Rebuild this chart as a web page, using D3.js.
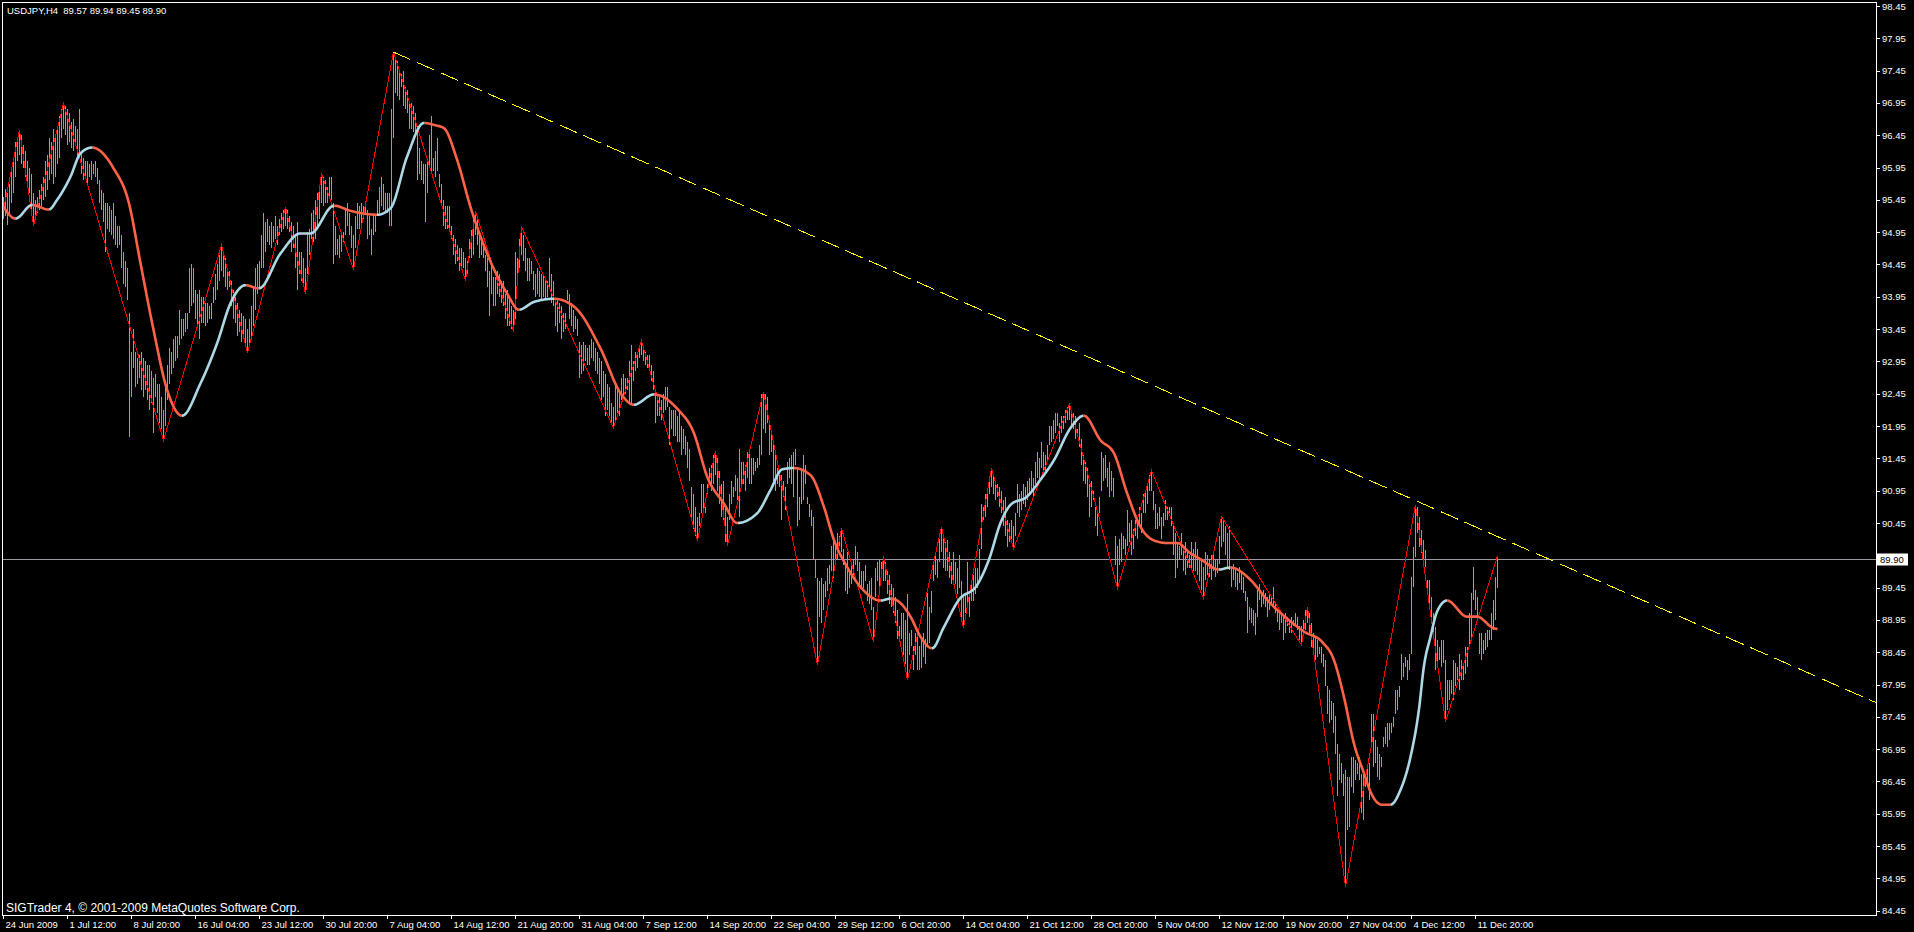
<!DOCTYPE html>
<html><head><meta charset="utf-8">
<script src="https://cdn.jsdelivr.net/npm/d3@7"></script>
<style>html,body{margin:0;padding:0;background:#000;overflow:hidden}svg{display:block}</style>
</head><body>
<svg id="chart" width="1914" height="932"></svg>
<script>
const symbolTitle = "USDJPY,H4  89.57 89.94 89.45 89.90";
const copyright = "SIGTrader 4, \u00A9 2001-2009 MetaQuotes Software Corp.";
const dateLabels = ["24 Jun 2009","1 Jul 12:00","8 Jul 20:00","16 Jul 04:00","23 Jul 12:00","30 Jul 20:00","7 Aug 04:00","14 Aug 12:00","21 Aug 20:00","31 Aug 04:00","7 Sep 12:00","14 Sep 20:00","22 Sep 04:00","29 Sep 12:00","6 Oct 20:00","14 Oct 04:00","21 Oct 12:00","28 Oct 20:00","5 Nov 04:00","12 Nov 12:00","19 Nov 20:00","27 Nov 04:00","4 Dec 12:00","11 Dec 20:00"];
const barsPerDateLabel = 32;
// price scale labels (89.95 is covered by the current-price label)
const priceTicks = [84.45,84.95,85.45,85.95,86.45,86.95,87.45,87.95,88.45,88.95,89.45,90.45,90.95,91.45,91.95,92.45,92.95,93.45,93.95,94.45,94.95,95.45,95.95,96.45,96.95,97.45,97.95,98.45];
const currentPrice = 89.90;

// H4 bars: [low, high]
const bars = [
// 0
[95.15,95.50],[95.20,95.62],[95.06,95.55],[95.25,95.70],[95.40,95.90],[95.55,96.10],[95.80,96.35],[96.05,96.42],[96.15,96.53],[96.00,96.45],
// 10
[95.95,96.30],[95.80,96.20],[95.70,96.05],[95.55,95.95],[95.30,95.85],[95.05,95.55],[95.20,95.45],[95.25,95.50],[95.30,95.60],[95.35,95.70],
// 20
[95.45,95.80],[95.50,96.05],[95.60,96.15],[95.75,96.40],[95.85,96.35],[95.70,96.55],[95.80,96.45],[96.00,96.60],[96.10,96.75],[96.40,96.85],
// 30
[96.55,96.94],[96.45,96.90],[96.30,96.85],[96.35,96.80],[96.25,96.65],[96.20,96.70],[96.30,96.60],[96.10,96.55],[96.10,96.85],[95.85,96.20],
// 40
[95.75,96.10],[95.80,96.05],[95.70,96.05],[95.80,96.00],[95.75,96.05],[95.85,96.00],[95.80,96.05],[95.70,95.95],[95.40,95.75],[95.30,95.60],
// 50
[95.10,95.55],[94.65,95.40],[95.00,95.40],[94.95,95.35],[94.90,95.30],[94.85,95.40],[94.75,95.20],[94.70,95.05],[94.75,95.05],[94.40,94.90],
// 60
[94.15,94.65],[94.10,94.50],[93.90,94.40],[91.78,93.70],[92.40,93.10],[92.85,93.45],[92.55,93.10],[92.60,93.00],[92.70,93.05],[92.50,93.10],
// 70
[92.40,93.00],[92.50,92.95],[92.35,92.90],[92.20,92.90],[92.30,92.80],[91.85,92.70],[92.40,92.75],[92.15,92.60],[92.00,92.60],[91.90,92.40],
// 80
[91.73,92.20],[91.95,92.55],[92.35,92.90],[92.60,93.15],[92.75,93.10],[92.85,93.30],[92.95,93.35],[93.00,93.35],[93.20,93.75],[93.30,93.60],
// 90
[93.35,93.60],[93.40,93.70],[93.45,93.70],[93.70,94.40],[93.80,94.45],[93.85,94.40],[93.60,94.05],[93.50,94.00],[93.30,94.05],[93.55,93.95],
// 100
[93.55,93.95],[93.50,93.85],[93.55,93.85],[93.60,93.80],[93.60,93.85],[93.85,94.10],[93.90,94.30],[94.05,94.45],[94.20,94.60],[94.35,94.75],
// 110
[94.25,94.65],[94.10,94.55],[94.05,94.40],[94.10,94.35],[93.80,94.20],[93.60,94.05],[93.55,93.95],[93.35,93.85],[93.40,93.75],[93.25,93.70],
// 120
[93.35,93.65],[93.20,93.60],[93.08,93.45],[93.20,93.60],[93.35,93.80],[93.50,94.10],[93.75,94.40],[94.00,94.45],[94.10,94.50],[94.40,94.90],
// 130
[94.40,95.25],[94.65,95.10],[94.80,95.15],[94.75,95.05],[94.70,95.10],[94.80,95.05],[94.85,95.20],[94.75,95.05],[94.90,95.15],[94.95,95.25],
// 140
[95.00,95.30],[95.05,95.34],[95.00,95.30],[94.95,95.20],[94.65,95.10],[94.70,95.05],[94.40,94.90],[94.05,95.10],[94.30,94.65],[94.20,94.65],
// 150
[94.10,94.55],[94.00,94.40],[94.30,94.95],[94.60,95.00],[94.85,95.25],[94.80,95.30],[94.85,95.45],[95.05,95.55],[95.15,95.65],[95.40,95.86],
// 160
[95.35,95.80],[95.40,95.75],[95.40,95.65],[95.50,95.80],[95.45,95.80],[94.45,95.40],[94.60,95.05],[94.60,94.85],[94.55,94.90],[94.65,94.95],
// 170
[94.80,94.95],[94.90,95.30],[95.05,95.40],[94.90,95.25],[94.70,95.05],[94.37,94.90],[94.70,95.20],[95.00,95.40],[95.00,95.35],[95.05,95.40],
// 180
[95.15,95.35],[95.25,95.40],[94.85,95.30],[94.90,95.20],[94.60,95.00],[94.90,95.20],[94.95,95.20],[95.20,95.45],[95.25,95.65],[95.35,95.80],
// 190
[95.30,95.70],[95.25,95.55],[95.25,95.55],[95.05,95.55],[95.05,96.85],[96.40,97.74],[97.10,97.65],[97.05,97.60],[97.00,97.45],[97.20,97.40],
// 200
[96.90,97.45],[96.85,97.20],[96.80,97.15],[96.55,96.95],[96.55,96.95],[96.50,96.90],[96.45,96.80],[95.75,96.60],[95.85,96.25],[95.75,96.05],
// 210
[95.70,96.00],[95.10,96.00],[95.55,96.05],[95.95,96.45],[95.85,96.75],[95.90,96.10],[95.80,96.20],[95.90,96.40],[95.65,95.85],[95.40,95.70],
// 220
[95.05,95.45],[95.00,95.35],[95.00,95.35],[94.95,95.35],[94.85,95.05],[94.60,94.90],[94.45,94.85],[94.50,94.75],[94.35,94.70],[94.40,94.70],
// 230
[94.40,94.65],[94.20,94.55],[94.30,94.50],[94.55,94.85],[94.55,94.98],[94.60,95.20],[94.90,95.27],[94.75,95.15],[94.55,94.90],[94.60,94.80],
// 240
[94.55,94.75],[94.35,94.60],[94.10,94.55],[93.65,94.35],[94.00,94.50],[93.80,94.25],[93.80,94.25],[94.00,94.35],[93.95,94.30],[93.85,94.20],
// 250
[93.80,94.20],[93.60,94.00],[93.50,94.05],[93.50,93.90],[93.45,93.80],[93.41,93.75],[93.60,94.65],[94.30,94.55],[94.40,94.85],[94.60,95.03],
// 260
[94.50,94.90],[94.35,94.70],[94.20,94.55],[94.20,94.55],[94.30,94.50],[94.05,94.35],[93.95,94.30],[94.00,94.40],[93.95,94.35],[93.90,94.30],
// 270
[93.95,94.30],[93.90,94.20],[93.95,94.20],[94.10,94.55],[93.85,94.30],[93.80,94.20],[93.50,93.90],[93.40,93.90],[93.55,93.85],[93.30,93.80],
// 280
[93.40,93.70],[93.45,93.70],[93.90,94.05],[93.60,94.00],[93.50,93.85],[93.40,93.75],[93.45,93.65],[93.35,93.60],[92.70,93.25],[92.75,93.20],
// 290
[92.80,93.25],[92.95,93.20],[92.90,93.15],[92.90,93.20],[93.00,93.30],[92.95,93.25],[92.80,93.15],[92.75,93.10],[92.60,93.00],[92.35,92.95],
// 300
[92.40,92.80],[92.10,92.75],[92.20,92.60],[92.10,92.55],[92.00,92.30],[91.92,92.25],[92.05,92.60],[92.15,92.50],[92.10,92.50],[92.35,92.70],
// 310
[92.40,92.75],[92.45,92.70],[92.50,92.70],[92.30,92.95],[92.30,93.20],[92.65,92.95],[92.80,93.10],[92.85,93.10],[93.00,93.17],[93.05,93.27],
// 320
[92.95,93.12],[92.90,93.10],[92.85,93.05],[92.80,93.05],[92.65,92.90],[92.50,92.80],[92.00,92.50],[92.10,92.40],[92.10,92.40],[92.05,92.35],
// 330
[92.15,92.45],[92.20,92.55],[92.25,92.55],[91.65,92.25],[91.90,92.20],[91.80,92.20],[91.80,92.20],[91.70,92.10],[91.70,92.20],[91.50,91.95],
// 340
[91.60,91.90],[91.50,91.80],[91.30,91.70],[91.10,91.60],[90.55,91.00],[90.35,90.90],[90.25,90.70],[90.18,90.55],[90.40,90.60],[90.60,91.05],
// 350
[90.60,91.05],[90.60,90.70],[90.90,91.05],[91.05,91.30],[90.95,91.35],[91.05,91.50],[91.20,91.57],[90.95,91.45],[90.75,91.25],[90.55,91.05],
// 360
[90.50,91.10],[90.15,90.70],[90.10,90.55],[90.50,90.90],[90.75,91.10],[90.85,91.00],[90.95,91.20],[90.80,91.15],[90.55,91.60],[91.05,91.40],
// 370
[91.05,91.40],[90.95,91.35],[91.15,91.55],[91.05,91.55],[91.05,91.45],[91.20,91.45],[91.25,91.40],[91.30,91.45],[91.35,91.65],[91.50,92.45],
// 380
[91.90,92.48],[91.85,92.45],[92.00,92.40],[91.50,92.00],[91.55,91.85],[91.10,91.70],[90.95,91.50],[91.05,91.30],[91.00,91.25],[90.50,91.20],
// 390
[90.85,91.10],[90.65,91.00],[91.05,91.40],[91.15,91.45],[91.05,91.50],[90.85,91.55],[91.35,91.60],[90.40,91.30],[90.50,90.85],[90.75,91.25],
// 400
[90.80,91.50],[91.05,91.35],[90.75,90.85],[90.55,90.75],[90.40,90.65],[89.90,90.55],[89.60,89.90],[88.25,89.60],[89.00,89.55],[88.90,89.60],
// 410
[89.10,89.50],[89.30,89.55],[89.40,89.75],[89.50,89.80],[89.70,90.10],[89.60,90.20],[89.85,90.15],[89.90,90.30],[90.10,90.25],[90.00,90.37],
// 420
[89.80,90.05],[89.40,89.85],[89.35,90.00],[89.45,89.70],[89.50,89.80],[89.65,89.90],[89.80,90.10],[89.70,90.00],[89.50,89.85],[89.45,89.70],
// 430
[89.45,89.70],[89.55,89.80],[89.25,89.50],[89.20,89.55],[89.10,89.60],[88.61,89.15],[89.30,89.75],[89.55,89.85],[89.35,89.90],[89.60,89.85],
// 440
[89.55,89.93],[89.55,89.85],[89.35,89.70],[89.20,89.65],[89.15,89.50],[89.05,89.45],[88.90,89.30],[88.65,89.10],[88.65,88.85],[88.65,89.05],
// 450
[88.40,89.05],[88.27,88.95],[88.02,89.35],[88.40,88.75],[88.55,88.80],[88.17,88.55],[88.40,88.75],[88.17,88.80],[88.17,88.55],[88.20,88.65],
// 460
[88.37,88.75],[88.27,88.65],[88.53,89.36],[88.60,89.15],[89.05,89.40],[89.55,89.85],[89.65,89.95],[89.60,89.90],[89.85,90.20],[90.00,90.39],
// 470
[89.75,90.20],[89.70,90.15],[89.70,90.18],[89.60,90.00],[89.50,89.85],[89.55,90.00],[89.50,89.85],[89.35,89.75],[89.45,89.95],[88.95,89.55],
// 480
[88.82,89.30],[89.05,89.35],[89.15,89.85],[89.00,89.35],[89.25,89.55],[89.25,89.65],[89.35,89.75],[89.45,89.75],[89.55,90.05],[90.05,90.75],
// 490
[90.50,90.70],[90.55,90.90],[90.70,90.95],[90.90,91.10],[91.00,91.30],[90.90,91.20],[90.80,91.10],[90.85,91.05],[90.70,91.00],[90.60,90.95],
// 500
[90.40,90.80],[90.25,90.85],[90.08,90.50],[90.15,90.45],[90.20,90.50],[90.05,90.40],[90.25,90.60],[90.60,91.05],[90.55,90.90],[90.65,90.95],
// 510
[90.75,91.05],[90.70,91.00],[90.80,91.10],[90.90,91.15],[90.95,91.25],[90.85,91.15],[91.05,91.40],[91.15,91.55],[91.10,91.45],[91.30,91.70],
// 520
[91.25,91.55],[91.25,91.50],[91.40,91.65],[91.65,91.95],[91.70,91.95],[91.75,92.05],[91.85,92.15],[91.95,92.15],[91.70,92.00],[91.85,92.10],
// 530
[91.90,92.10],[92.00,92.20],[92.05,92.25],[92.05,92.29],[91.95,92.20],[91.90,92.15],[91.75,92.10],[91.80,91.90],[91.62,92.00],[91.35,91.75],
// 540
[91.10,91.50],[91.05,91.40],[90.85,91.30],[90.55,91.05],[90.70,91.10],[90.80,90.95],[90.40,90.70],[90.25,90.60],[90.60,90.85],[90.95,91.55],
// 550
[91.10,91.45],[91.15,91.50],[91.00,91.30],[90.85,91.40],[90.95,91.25],[90.85,91.15],[89.80,90.25],[89.44,90.10],[89.80,90.20],[89.85,90.30],
// 560
[90.05,90.25],[89.95,90.20],[90.10,90.65],[90.15,90.45],[89.95,90.50],[90.05,90.35],[90.25,90.50],[90.20,90.45],[90.40,90.70],[90.30,90.60],
// 570
[90.60,90.90],[90.60,90.95],[90.75,91.05],[90.95,91.20],[90.95,91.26],[90.65,90.95],[90.35,90.75],[90.35,90.60],[90.40,90.70],[90.20,90.55],
// 580
[90.40,90.60],[90.50,90.80],[90.50,90.70],[90.60,90.70],[90.40,90.70],[89.95,90.45],[89.60,90.30],[89.75,90.15],[89.90,90.10],[89.95,90.30],
// 590
[89.70,90.10],[89.65,90.15],[89.75,90.00],[89.75,89.95],[89.75,90.15],[89.70,90.05],[89.70,90.15],[89.65,90.05],[89.55,89.90],[89.41,89.88],
// 600
[89.28,89.77],[89.57,90.00],[89.65,89.95],[89.62,89.90],[89.57,89.95],[89.70,89.95],[89.62,89.88],[89.68,89.88],[89.82,90.25],[90.08,90.55],
// 610
[90.15,90.50],[89.95,90.40],[89.77,90.30],[89.72,90.40],[89.46,89.77],[89.57,89.82],[89.46,89.72],[89.41,89.67],[89.52,89.77],[89.41,89.67],
// 620
[89.36,89.62],[89.25,89.40],[88.74,89.31],[88.95,89.15],[88.90,89.13],[88.85,89.10],[88.72,89.05],[89.00,89.41],[89.26,89.51],[89.15,89.36],
// 630
[89.20,89.41],[89.15,89.36],[89.00,89.31],[89.10,89.36],[89.20,89.31],[89.15,89.46],[89.05,89.20],[88.92,89.10],[88.79,89.10],[88.90,89.05],
// 640
[88.64,89.00],[88.74,89.05],[88.85,89.00],[88.74,88.95],[88.74,89.00],[88.85,88.95],[88.85,89.05],[88.79,89.00],[88.64,88.85],[88.56,88.85],
// 650
[88.79,88.95],[88.79,89.10],[88.90,89.15],[88.74,89.05],[88.53,88.90],[88.43,88.74],[88.33,88.69],[88.38,88.64],[88.43,88.53],[88.28,88.53],
// 660
[88.22,88.43],[87.92,88.33],[87.50,87.92],[87.35,87.86],[87.40,87.70],[87.20,87.66],[86.88,87.46],[86.22,87.03],[86.47,86.88],[86.42,86.73],
// 670
[86.22,86.57],[84.82,86.62],[85.70,86.52],[85.75,86.52],[86.37,86.83],[86.27,86.83],[86.47,86.78],[86.57,86.73],[86.47,86.83],[85.96,86.57],
// 680
[85.85,86.57],[86.37,86.52],[86.42,86.68],[86.16,86.73],[86.99,87.50],[86.68,87.50],[86.73,87.09],[86.52,86.99],[86.47,86.88],[86.68,86.83],
// 690
[86.99,87.14],[87.03,87.30],[86.99,87.35],[87.09,87.35],[87.20,87.35],[87.30,87.45],[87.50,87.86],[87.55,87.86],[87.76,87.92],[88.02,88.43],
// 700
[88.07,88.28],[88.22,88.38],[88.02,88.33],[88.17,88.43],[88.43,89.62],[89.46,90.08],[89.93,90.73],[90.29,90.70],[90.08,90.55],[89.98,90.34],
// 710
[89.77,90.18],[89.77,90.03],[89.36,89.57],[89.15,89.57],[88.90,89.31],[88.69,89.05],[88.17,88.84],[88.22,88.64],[88.33,88.53],[88.22,88.64],
// 720
[88.28,88.64],[87.37,88.33],[87.55,88.02],[87.71,88.02],[87.81,88.02],[87.71,88.33],[87.92,88.28],[88.02,88.22],[87.86,88.43],[88.02,88.33],
// 730
[88.02,88.28],[88.12,88.53],[88.22,88.53],[88.53,89.05],[88.64,89.36],[89.26,89.77],[89.10,89.41],[88.95,89.31],[88.43,88.74],[88.33,88.74],
// 740
[88.43,88.64],[88.48,88.74],[88.53,88.79],[88.64,88.79],[88.64,89.05],[88.79,89.26],[88.95,89.62],[89.45,89.94]
];

// ZigZag pivots: [bar index, price]
const zigzag = [[0,95.30],[8,96.53],[15,95.05],[30,96.94],[80,91.73],[109,94.75],[122,93.08],[141,95.34],[151,94.00],[159,95.86],[175,94.37],[195,97.74],[231,94.20],[236,95.27],[255,93.41],[259,95.03],[305,91.92],[319,93.27],[347,90.18],[356,91.57],[362,90.10],[380,92.48],[407,88.25],[419,90.37],[435,88.61],[440,89.93],[452,88.02],[469,90.39],[480,88.82],[494,91.30],[505,90.05],[533,92.29],[557,89.44],[574,91.26],[600,89.28],[609,90.55],[649,88.56],[652,89.15],[671,84.82],[706,90.73],[721,87.37],[747,89.94]];

// Smoothed moving average: [bar index, price]
const maLine = [[0,95.34],[6,95.16],[14.3,95.37],[22.7,95.30],[26.8,95.45],[33.5,95.81],[38.5,96.17],[44.3,96.26],[55,95.94],[62.7,95.40],[68.5,94.47],[75,93.44],[81.8,92.51],[89.3,92.11],[98.5,92.61],[106.8,93.23],[113.5,93.85],[121,94.13],[127.7,94.08],[138.5,94.62],[148.5,94.93],[153.5,94.93],[165.2,95.36],[173.5,95.28],[186.8,95.22],[193.5,95.32],[201.8,96.12],[210.2,96.64],[215.2,96.61],[220.2,96.56],[226.8,96.07],[233.5,95.34],[241.8,94.62],[251.8,94.00],[257.7,93.75],[265.2,93.87],[275.2,93.92],[285.2,93.80],[298.5,93.15],[308.5,92.46],[315.2,92.28],[325.2,92.44],[336.8,92.22],[345.2,91.84],[351.8,91.17],[360.2,90.75],[366.8,90.45],[376.8,90.60],[383.5,90.96],[389.3,91.28],[395.2,91.30],[403.5,91.19],[410.2,90.70],[415.2,90.19],[421.8,89.77],[428.5,89.46],[438.5,89.25],[443.5,89.28],[448.5,89.21],[453.5,89.00],[458.5,88.69],[464.3,88.51],[470.2,88.84],[477.7,89.26],[486.8,89.49],[492.7,89.88],[498.5,90.45],[503.5,90.73],[511.8,90.86],[518.5,91.12],[525.2,91.42],[533.5,91.92],[540.2,92.11],[548.5,91.73],[555.2,91.53],[561.8,90.91],[568.5,90.39],[575.2,90.18],[581.8,90.14],[586.8,90.14],[593.5,89.98],[598.5,89.89],[607.7,89.73],[613.5,89.76],[623.5,89.57],[631.8,89.26],[641.8,88.97],[650.2,88.77],[659.3,88.61],[665.2,88.33],[670.2,87.76],[675.2,87.04],[680.2,86.58],[683.5,86.29],[689.3,86.09],[693.5,86.09],[698.5,86.32],[703.5,86.83],[707.7,87.56],[710.2,88.23],[713.5,88.69],[716.8,89.08],[721.8,89.25],[731.8,89.00],[736.8,89.00],[745.2,88.82],[747,88.81]];

// Trend line: [bar index, price]
const trendLine = [[195,97.74],[936.5,87.67]];

const FONT = "'Liberation Sans', Arial, sans-serif";
const svg = d3.select("#chart");
svg.append("rect").attr("width",1914).attr("height",932).attr("fill","#000");

const x = d3.scaleLinear().domain([0, 936.5]).range([3, 1876]);
const y = d3.scaleLinear().domain([84.45, 98.45]).range([910.7, 6]);

svg.append("defs").append("clipPath").attr("id","plotclip")
  .append("rect").attr("x",3).attr("y",3).attr("width",1873).attr("height",912);
const plot = svg.append("g").attr("clip-path","url(#plotclip)");

// bars
plot.append("g").selectAll("rect").data(bars).join("rect")
  .attr("x",(d,i)=>Math.round(x(i)))
  .attr("y",d=>Math.round(y(d[1])))
  .attr("width",1)
  .attr("height",d=>Math.max(1, Math.round(y(d[0]))-Math.round(y(d[1]))))
  .attr("fill","#33e633")
  .attr("shape-rendering","crispEdges");

// current price line
plot.append("line")
  .attr("x1",3).attr("x2",1876)
  .attr("y1",Math.round(y(currentPrice))+0.5).attr("y2",Math.round(y(currentPrice))+0.5)
  .attr("stroke","#9a9aa2").attr("stroke-width",1).attr("shape-rendering","crispEdges");

// zigzag
plot.append("path").datum(zigzag)
  .attr("d", d3.line().x(d=>Math.round(x(d[0]))+0.5).y(d=>y(d[1])))
  .attr("fill","none").attr("stroke","#ff0000").attr("stroke-width",1)
  .attr("shape-rendering","crispEdges");

// moving average, coloured by direction
const maBase = plot.append("path").datum(maLine)
  .attr("d", d3.line().x(d=>x(d[0])+0.5).y(d=>y(d[1])).curve(d3.curveMonotoneX))
  .attr("fill","none").attr("stroke","none");
(function(){
  const node = maBase.node();
  const L = node.getTotalLength();
  const pts = [];
  for (let s=0; s<L; s+=1) pts.push(node.getPointAtLength(s));
  pts.push(node.getPointAtLength(L));
  const runs = []; let cur = null;
  for (let k=1;k<pts.length;k++){
    const dy = pts[k].y - pts[k-1].y;
    let up = dy < -0.02 ? true : (dy > 0.02 ? false : (cur ? cur.up : false));
    if (!cur || cur.up !== up){ cur = {up:up, pts:[pts[k-1]]}; runs.push(cur); }
    cur.pts.push(pts[k]);
  }
  const ln = d3.line().x(p=>p.x).y(p=>p.y);
  runs.forEach(r=>{
    plot.append("path").attr("d", ln(r.pts)).attr("fill","none")
      .attr("stroke", r.up ? "#add8e6" : "#ff6347")
      .attr("stroke-width",2.6).attr("stroke-linecap","butt").attr("stroke-linejoin","round");
  });
})();

// trend line
plot.append("path").datum(trendLine)
  .attr("d", d3.line().x(d=>x(d[0])).y(d=>y(d[1])))
  .attr("fill","none").attr("stroke","#ffff00").attr("stroke-width",1)
  .attr("stroke-dasharray","19,7").attr("shape-rendering","crispEdges");

// frame
svg.append("rect").attr("x",2.5).attr("y",2.5).attr("width",1874).attr("height",913)
  .attr("fill","none").attr("stroke","#ffffff").attr("stroke-width",1).attr("shape-rendering","crispEdges");

// price axis
const yAxis = d3.axisRight(y).tickValues(priceTicks).tickSize(4).tickPadding(2).tickFormat(d3.format(".2f"));
svg.append("g").attr("transform","translate(1876,0)").call(yAxis)
  .call(g=>g.select(".domain").remove())
  .call(g=>{
    g.selectAll("line").attr("stroke","#ffffff").attr("shape-rendering","crispEdges");
    g.selectAll("text").attr("fill","#ffffff").style("font-family",FONT).style("font-size","9.5px");
  });

// current price label
const cy = Math.round(y(currentPrice))+0.5;
svg.append("rect").attr("x",1877).attr("y",cy-6).attr("width",31).attr("height",12).attr("fill","#ffffff");
svg.append("text").attr("x",1880).attr("y",cy+3.5).text(d3.format(".2f")(currentPrice))
  .attr("fill","#000").style("font-family",FONT).style("font-size","9.5px");

// time axis
const xAxis = d3.axisBottom(x).tickValues(dateLabels.map((d,k)=>k*barsPerDateLabel))
  .tickFormat((d,k)=>dateLabels[k]).tickSize(4).tickPadding(2);
svg.append("g").attr("transform","translate(0,915)").call(xAxis)
  .call(g=>g.select(".domain").remove())
  .call(g=>{
    g.selectAll("line").attr("stroke","#ffffff").attr("shape-rendering","crispEdges");
    g.selectAll("text").attr("fill","#ffffff").attr("text-anchor","start").attr("x",2)
      .style("font-family",FONT).style("font-size","9.5px");
  });

// titles
svg.append("text").attr("x",7).attr("y",14).text(symbolTitle)
  .attr("fill","#ffffff").style("font-family",FONT).style("font-size","9.5px").style("white-space","pre")
  .attr("xml:space","preserve");
svg.append("text").attr("x",6).attr("y",912).text(copyright)
  .attr("fill","#ffffff").style("font-family",FONT).style("font-size","12px");
</script>
</body></html>
